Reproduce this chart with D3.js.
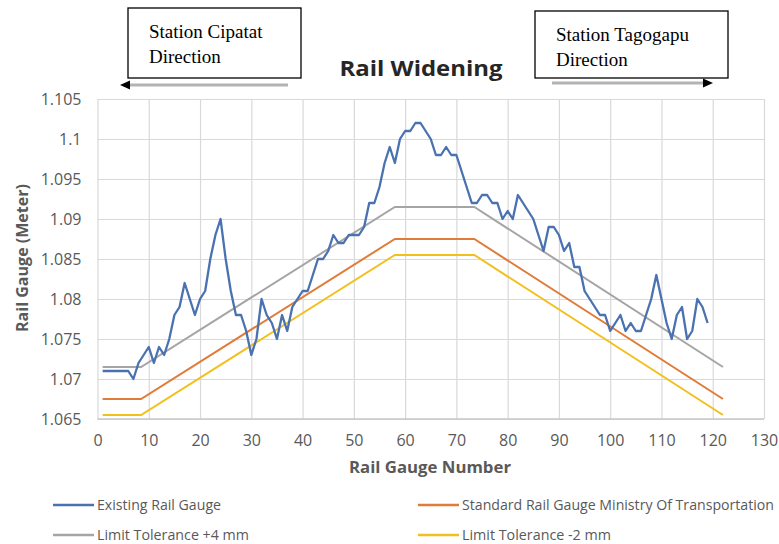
<!DOCTYPE html>
<html><head><meta charset="utf-8">
<script src="https://cdn.jsdelivr.net/npm/d3@7"></script>
<style>
html,body{margin:0;padding:0;background:#fff;}
svg{display:block;}
</style></head>
<body>
<svg id="chart" width="779" height="544"></svg>
<script>
// ---- data ----
const gaugeNumbers = d3.range(1, 120);
const existingGauge = [
  1.071,1.071,1.071,1.071,1.071,1.071,1.070,1.072,1.073,1.074,
  1.072,1.074,1.073,1.075,1.078,1.079,1.082,1.080,1.078,1.080,
  1.081,1.085,1.088,1.090,1.085,1.081,1.078,1.078,1.076,1.073,
  1.075,1.080,1.078,1.077,1.075,1.078,1.076,1.079,1.080,1.081,
  1.081,1.083,1.085,1.085,1.086,1.088,1.087,1.087,1.088,1.088,
  1.088,1.089,1.092,1.092,1.094,1.097,1.099,1.097,1.100,1.101,
  1.101,1.102,1.102,1.101,1.100,1.098,1.098,1.099,1.098,1.098,
  1.096,1.094,1.092,1.092,1.093,1.093,1.092,1.092,1.090,1.091,
  1.090,1.093,1.092,1.091,1.090,1.088,1.086,1.089,1.089,1.088,
  1.086,1.087,1.084,1.084,1.081,1.080,1.079,1.078,1.078,1.076,
  1.077,1.078,1.076,1.077,1.076,1.076,1.078,1.080,1.083,1.080,
  1.077,1.075,1.078,1.079,1.075,1.076,1.080,1.079,1.077
];
const refNumbers   = [1, 8.5, 58, 73.5, 122];
const standardGauge = [1.0675, 1.0675, 1.0875, 1.0875, 1.0675];
const limitPlus4    = [1.0715, 1.0715, 1.0915, 1.0915, 1.0715];
const limitMinus2   = [1.0655, 1.0655, 1.0855, 1.0855, 1.0655];
const xTicks = [0,10,20,30,40,50,60,70,80,90,100,110,120,130];
const yTicks = [1.065,1.07,1.075,1.08,1.085,1.09,1.095,1.1,1.105];
const yTickLabels = ["1.065","1.07","1.075","1.08","1.085","1.09","1.095","1.1","1.105"];
const seriesNames = ["Existing Rail Gauge","Standard Rail Gauge Ministry Of Transportation","Limit Tolerance +4 mm","Limit Tolerance -2 mm"];
const seriesColors = ["#4a72b0","#e07b39","#a5a5a5","#f2c01e"];

// ---- chart ----
const svg = d3.select("#chart");
const x = d3.scaleLinear().domain([0,130]).range([97.5,764]);
const y = d3.scaleLinear().domain([1.065,1.105]).range([419,99]);
const font = "'Open Sans', 'Liberation Sans', sans-serif";

// gridlines
const gx = svg.append("g").attr("transform","translate(0,419)")
  .call(d3.axisBottom(x).tickValues(xTicks).tickSize(-320).tickFormat(""));
gx.select(".domain").remove();
gx.selectAll("line").attr("stroke","#d9d9d9").attr("stroke-width",1.2);
const gy = svg.append("g").attr("transform","translate(97.5,0)")
  .call(d3.axisLeft(y).tickValues(yTicks).tickSize(-666.5).tickFormat(""));
gy.select(".domain").remove();
gy.selectAll("line").attr("stroke","#d9d9d9").attr("stroke-width",1.2);
svg.append("line").attr("x1",x(0)).attr("x2",x(130)).attr("y1",y(1.065)).attr("y2",y(1.065))
  .attr("stroke","#c8c8c8").attr("stroke-width",1.3);

// tick labels via axes
const ax = svg.append("g").attr("transform","translate(0,419)")
  .call(d3.axisBottom(x).tickValues(xTicks).tickSize(0).tickPadding(16));
ax.select(".domain").remove();
ax.selectAll("text").attr("font-family",font).attr("font-size",16).attr("fill","#595959");
const ay = svg.append("g").attr("transform","translate(97.5,0)")
  .call(d3.axisLeft(y).tickValues(yTicks).tickSize(0).tickPadding(16)
    .tickFormat((d,i)=>yTickLabels[i]));
ay.select(".domain").remove();
ay.selectAll("text").attr("font-family",font).attr("font-size",16).attr("fill","#595959");

// lines
const line = d3.line().x(d=>x(d[0])).y(d=>y(d[1]));
const mk = (xs,ys)=>xs.map((v,i)=>[v,ys[i]]);
svg.append("path").datum(mk(refNumbers,limitMinus2)).attr("d",line)
  .attr("fill","none").attr("stroke",seriesColors[3]).attr("stroke-width",2);
svg.append("path").datum(mk(refNumbers,standardGauge)).attr("d",line)
  .attr("fill","none").attr("stroke",seriesColors[1]).attr("stroke-width",2);
svg.append("path").datum(mk(refNumbers,limitPlus4)).attr("d",line)
  .attr("fill","none").attr("stroke",seriesColors[2]).attr("stroke-width",2);
svg.append("path").datum(mk(gaugeNumbers,existingGauge)).attr("d",line)
  .attr("fill","none").attr("stroke",seriesColors[0]).attr("stroke-width",2.3)
  .attr("stroke-linejoin","round");

// axis titles
svg.append("text").attr("x",430).attr("y",473).attr("text-anchor","middle")
  .attr("font-family",font).attr("font-weight","bold").attr("font-size",16.5)
  .attr("fill","#595959").attr("textLength",162).attr("lengthAdjust","spacingAndGlyphs")
  .text("Rail Gauge Number");
svg.append("text").attr("transform","translate(28,258) rotate(-90)").attr("text-anchor","middle")
  .attr("font-family",font).attr("font-weight","bold").attr("font-size",15.5)
  .attr("fill","#595959").attr("textLength",148).attr("lengthAdjust","spacingAndGlyphs")
  .text("Rail Gauge (Meter)");

// title
svg.append("text").attr("x",421).attr("y",76).attr("text-anchor","middle")
  .attr("font-family",font).attr("font-weight","bold").attr("font-size",22)
  .attr("fill","#262626").attr("textLength",163).attr("lengthAdjust","spacingAndGlyphs")
  .text("Rail Widening");

// legend
const legendPos = [[53,505,124],[418,505,312],[53,535,152],[418,535,149]];
seriesNames.forEach((n,i)=>{
  const [lx,ly,tl] = legendPos[i];
  svg.append("line").attr("x1",lx).attr("x2",lx+41).attr("y1",ly).attr("y2",ly)
    .attr("stroke",seriesColors[i]).attr("stroke-width",2.3);
  svg.append("text").attr("x",lx+44).attr("y",ly+5).attr("font-family",font)
    .attr("font-size",14).attr("fill","#595959")
    .attr("textLength",tl).attr("lengthAdjust","spacingAndGlyphs").text(n);
});

// station boxes
const serif = "'Liberation Serif','Times New Roman',serif";
function box(x0,y0,w,h,t1,t2,tx){
  svg.append("rect").attr("x",x0).attr("y",y0).attr("width",w).attr("height",h)
    .attr("fill","#fff").attr("stroke","#000").attr("stroke-width",1.3);
  svg.append("text").attr("x",tx).attr("y",y0+30).attr("font-family",serif).attr("font-size",19).attr("fill","#000").text(t1);
  svg.append("text").attr("x",tx).attr("y",y0+55).attr("font-family",serif).attr("font-size",19).attr("fill","#000").text(t2);
}
box(128,8,173,70,"Station Cipatat","Direction",149);
box(535,11,193,67,"Station Tagogapu","Direction",556);

// arrows
svg.append("line").attr("x1",127).attr("x2",288).attr("y1",85).attr("y2",85)
  .attr("stroke","#b3b3b3").attr("stroke-width",3);
svg.append("path").attr("d","M120,85 L130,80.5 L130,89.5 Z").attr("fill","#000");
svg.append("line").attr("x1",552).attr("x2",705).attr("y1",83).attr("y2",83)
  .attr("stroke","#b3b3b3").attr("stroke-width",3);
svg.append("path").attr("d","M713,83 L703,78.5 L703,87.5 Z").attr("fill","#000");
</script>
</body></html>
